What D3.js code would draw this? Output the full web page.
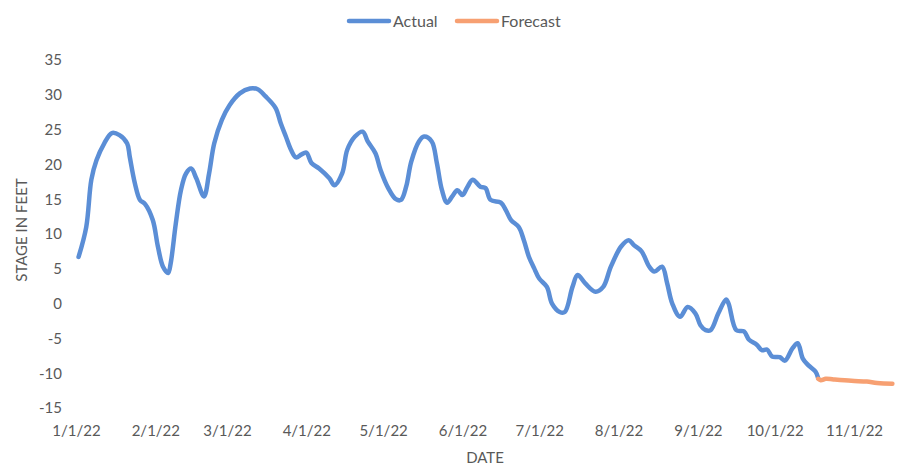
<!DOCTYPE html>
<html lang="en">
<head>
<meta charset="utf-8">
<title>Stage in feet</title>
<script src="https://cdn.jsdelivr.net/npm/d3@7"></script>
<style>
body { margin: 0; background: #fff; }
text { font-family: Lato, "Liberation Sans", sans-serif; fill: #595959; }
.tick text { font-size: 15px; }
.axis-title { font-size: 15px; }
.legend-label { font-size: 16px; }
</style>
</head>
<body>
<script>
// values: day of year 2022 (Jan 1 = day 0) and stage in feet
var actualDays = [1, 4, 6, 8, 11, 14, 17, 20, 21, 23, 25, 27, 30, 32, 34, 36, 37, 39, 41, 43, 45, 47, 50, 52, 54, 57, 60, 64, 68, 71, 74,
  78, 80, 82, 84, 86, 88, 90, 92, 95, 99, 101, 104, 106, 109, 112, 114, 117, 119, 122, 125, 127, 129, 131, 134, 136, 139, 141, 143, 145,
  147, 149, 151, 153, 155, 158, 160, 162, 166, 168, 170, 173, 175, 177, 179, 181, 184, 186, 189, 191, 194, 196, 199, 203, 206, 209,
  213, 216, 218, 221, 224, 226, 229, 231, 233, 236, 239, 242, 244, 246, 248, 251, 254, 255, 258, 261, 263, 266, 268, 270, 272, 275,
  277, 280, 282, 284, 286, 289, 290];
var actualValues = [6.7, 11.0, 17.8, 20.6, 23.0, 24.5, 24.2, 23.0, 21.1, 17.3, 14.9, 14.3, 12.0, 8.2, 5.3, 4.4, 5.8, 11.5, 16.3, 18.7, 19.4, 18.0, 15.4, 18.7, 23.0, 26.4, 28.5, 30.2, 30.9, 30.8, 29.8,
  28.1, 25.9, 24.0, 22.1, 21.0, 21.4, 21.7, 20.2, 19.4, 18.0, 17.0, 18.7, 22.1, 24.0, 24.7, 23.3, 21.6, 19.2, 16.6, 15.0, 14.9, 16.8, 20.4, 23.3, 24.0, 23.3, 20.2, 16.3, 14.5,
  15.4, 16.3, 15.6, 16.8, 17.8, 16.8, 16.6, 14.9, 14.5, 13.4, 12.0, 11.0, 9.1, 6.7, 5.1, 3.6, 2.4, 0.0, -1.2, -1.2, 2.4, 4.1, 2.9, 1.7, 2.4, 5.3,
  8.2, 9.1, 8.4, 7.5, 5.3, 4.6, 5.3, 2.9, 0.0, -1.9, -0.5, -1.4, -3.1, -3.8, -3.8, -1.4, 0.6, 0.0, -3.8, -4.0, -5.2, -5.9, -6.7, -6.6, -7.6, -7.7,
  -8.2, -6.4, -5.7, -7.9, -8.8, -9.8, -10.7];
var forecastDays = [290, 291, 293, 296, 303, 309, 313, 319];
var forecastValues = [-10.8, -11.0, -10.8, -10.9, -11.1, -11.2, -11.4, -11.5];

var xTickLabels = ["1/1/22", "2/1/22", "3/1/22", "4/1/22", "5/1/22", "6/1/22", "7/1/22", "8/1/22", "9/1/22", "10/1/22", "11/1/22"];
var yTicks = [-15, -10, -5, 0, 5, 10, 15, 20, 25, 30, 35];
var seriesNames = ["Actual", "Forecast"];
var seriesColors = ["#5b8ed6", "#f7a072"];

var W = 903, H = 468;
var parseDate = d3.timeParse("%m/%d/%y");
var start = parseDate("1/1/22");
function dayToDate(d) { return d3.timeDay.offset(start, d); }

var svg = d3.select("body").append("svg")
  .attr("width", W)
  .attr("height", H);

var x = d3.scaleTime()
  .domain([parseDate(xTickLabels[0]), parseDate(xTickLabels[xTickLabels.length - 1])])
  .range([76, 854]);

var y = d3.scaleLinear()
  .domain([-15, 35])
  .range([408, 60]);

// x axis, no line, labels only
var xAxis = d3.axisBottom(x)
  .tickValues(xTickLabels.map(parseDate))
  .tickSize(0)
  .tickPadding(0)
  .tickFormat(function(d, i) { return xTickLabels[i]; });

svg.append("g")
  .attr("class", "x axis")
  .attr("transform", "translate(0,425)")
  .call(xAxis)
  .call(function(g) { g.select(".domain").remove(); })
  .selectAll("text").attr("dy", "0.71em");

var yAxis = d3.axisLeft(y)
  .tickValues(yTicks)
  .tickSize(0)
  .tickPadding(0)
  .tickFormat(function(d) { return String(d); });  // plain hyphen minus, like the original

svg.append("g")
  .attr("class", "y axis")
  .attr("transform", "translate(62,0)")
  .call(yAxis)
  .call(function(g) { g.select(".domain").remove(); });

svg.selectAll(".tick text").attr("fill", "#595959");

// axis titles
svg.append("text")
  .attr("class", "axis-title")
  .attr("x", 485)
  .attr("y", 463)
  .attr("text-anchor", "middle")
  .text("DATE");

svg.append("text")
  .attr("class", "axis-title")
  .attr("transform", "translate(27,230) rotate(-90)")
  .attr("text-anchor", "middle")
  .text("STAGE IN FEET");

// lines
var line = d3.line()
  .x(function(d) { return x(dayToDate(d[0])); })
  .y(function(d) { return y(d[1]); })
  .curve(d3.curveCatmullRom.alpha(0.5));

var series = [
  d3.zip(actualDays, actualValues),
  d3.zip(forecastDays, forecastValues)
];

svg.selectAll(".series")
  .data(series)
  .enter()
  .append("path")
    .attr("class", "series")
    .attr("d", line)
    .attr("fill", "none")
    .attr("stroke", function(d, i) { return seriesColors[i]; })
    .attr("stroke-width", 4.5)
    .attr("stroke-linejoin", "round")
    .attr("stroke-linecap", "round");

// legend
var legendX = [347, 455];
var legend = svg.selectAll(".legend")
  .data(seriesNames)
  .enter()
  .append("g")
    .attr("class", "legend")
    .attr("transform", function(d, i) { return "translate(" + legendX[i] + ",21)"; });

legend.append("line")
  .attr("x1", 2)
  .attr("x2", 42)
  .attr("stroke", function(d, i) { return seriesColors[i]; })
  .attr("stroke-width", 4.5)
  .attr("stroke-linecap", "round");

legend.append("text")
  .attr("class", "legend-label")
  .attr("x", 46)
  .attr("y", 6)
  .text(function(d) { return d; });
</script>
</body>
</html>
